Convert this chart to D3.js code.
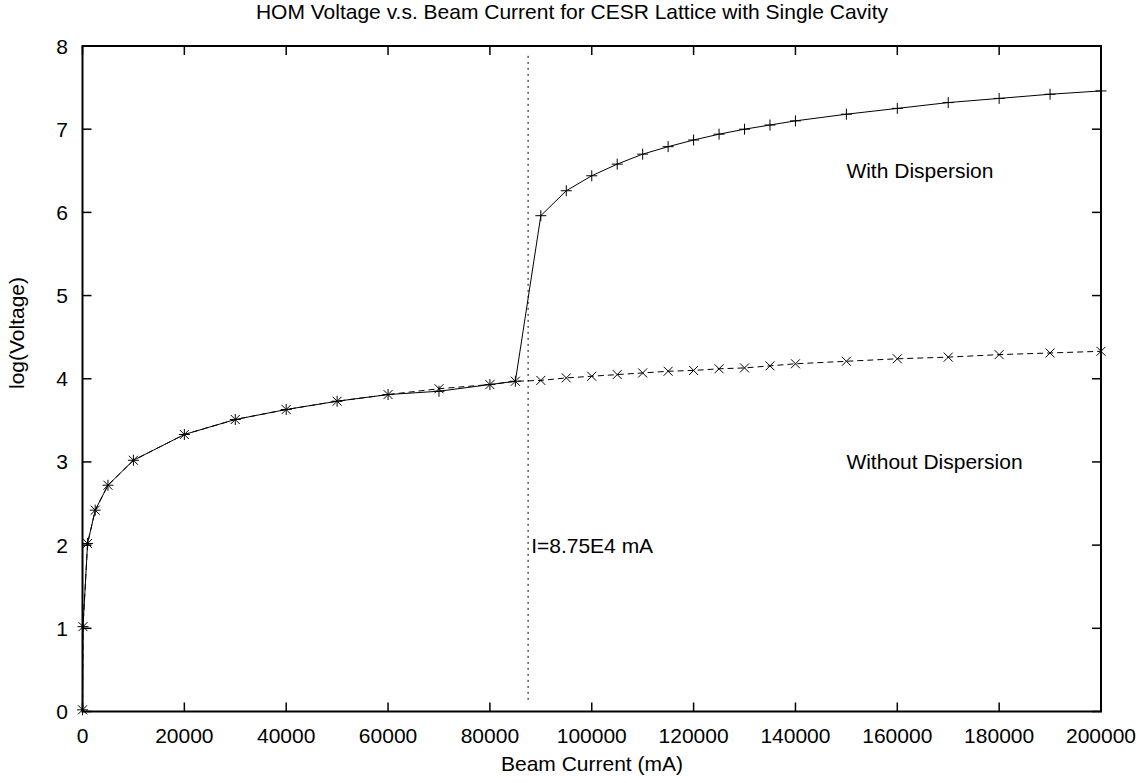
<!DOCTYPE html>
<html lang="en">
<head>
  <meta charset="UTF-8">
  <title>HOM Voltage v.s. Beam Current</title>
  <script src="https://d3js.org/d3.v7.min.js"></script>
  <style>
    body { margin: 0; background: #fff; }
    text { font-family: "Liberation Sans", Arial, sans-serif; fill: #000; }
  </style>
</head>
<body>
  <div id="root"></div>
  <script>
    // beam current (mA)
    const current = [10, 100, 1000, 2500, 5000, 10000, 20000, 30000, 40000, 50000, 60000, 70000, 80000, 85000,
      90000, 95000, 100000, 105000, 110000, 115000, 120000, 125000, 130000, 135000, 140000,
      150000, 160000, 170000, 180000, 190000, 200000]
    // log(Voltage) without dispersion
    const withoutDisp = [0.02, 1.02, 2.02, 2.42, 2.72, 3.02, 3.33, 3.51, 3.63, 3.73, 3.81, 3.88, 3.93, 3.97,
      3.98, 4.01, 4.03, 4.05, 4.07, 4.09, 4.10, 4.12, 4.13, 4.155, 4.18,
      4.21, 4.24, 4.26, 4.29, 4.31, 4.33]
    // log(Voltage) with dispersion
    const withDisp = [0.02, 1.02, 2.02, 2.42, 2.72, 3.02, 3.33, 3.51, 3.63, 3.73, 3.81, 3.85, 3.93, 3.97,
      5.96, 6.26, 6.44, 6.58, 6.70, 6.79, 6.87, 6.94, 7.00, 7.05, 7.10,
      7.18, 7.25, 7.32, 7.37, 7.42, 7.46]
    const xTicks = [0, 20000, 40000, 60000, 80000, 100000, 120000, 140000, 160000, 180000, 200000]
    const yTicks = [0, 1, 2, 3, 4, 5, 6, 7, 8]
    const threshold = 87500

    const width = 1148, height = 783
    const svg = d3.select('#root')
      .append('svg')
      .attr('width', width)
      .attr('height', height)

    const x = d3.scaleLinear().domain([0, 200000]).range([82.5, 1101])
    const y = d3.scaleLinear().domain([0, 8]).range([711.5, 46])
    const fs = 21

    // title
    svg.append('text')
      .attr('x', 572).attr('y', 19)
      .attr('text-anchor', 'middle')
      .style('font-size', fs + 'px')
      .text('HOM Voltage v.s. Beam Current for CESR Lattice with Single Cavity')

    // ticks, mirrored on all sides, pointing inward
    const tl = 9
    const ticks = svg.append('g').attr('stroke', '#000').attr('stroke-width', 1.5)
    xTicks.forEach(t => {
      ticks.append('line').attr('x1', x(t)).attr('x2', x(t)).attr('y1', y(0)).attr('y2', y(0) - tl)
      ticks.append('line').attr('x1', x(t)).attr('x2', x(t)).attr('y1', y(8)).attr('y2', y(8) + tl)
    })
    yTicks.forEach(t => {
      ticks.append('line').attr('x1', x(0)).attr('x2', x(0) + tl).attr('y1', y(t)).attr('y2', y(t))
      ticks.append('line').attr('x1', x(200000)).attr('x2', x(200000) - tl).attr('y1', y(t)).attr('y2', y(t))
    })

    svg.selectAll('.xlab').data(xTicks).enter()
      .append('text')
      .attr('x', d => x(d)).attr('y', 743)
      .attr('text-anchor', 'middle')
      .style('font-size', fs + 'px')
      .text(d => d)

    svg.selectAll('.ylab').data(yTicks).enter()
      .append('text')
      .attr('x', 68).attr('y', d => y(d))
      .attr('dy', '0.36em')
      .attr('text-anchor', 'end')
      .style('font-size', fs + 'px')
      .text(d => d)

    // axis titles
    svg.append('text')
      .attr('x', 592).attr('y', 771)
      .attr('text-anchor', 'middle')
      .style('font-size', fs + 'px')
      .text('Beam Current (mA)')
    svg.append('text')
      .attr('transform', 'translate(24,333) rotate(-90)')
      .attr('text-anchor', 'middle')
      .style('font-size', fs + 'px')
      .text('log(Voltage)')

    // threshold line
    svg.append('line')
      .attr('x1', x(threshold)).attr('x2', x(threshold))
      .attr('y1', y(0.14)).attr('y2', y(7.9))
      .attr('stroke', '#000').attr('stroke-width', 1)
      .attr('stroke-dasharray', '2,4')

    const line = d3.line()
      .x(d => x(d[0]))
      .y(d => y(d[1]))

    const ptsWithout = current.map((c, i) => [c, withoutDisp[i]])
    const ptsWith = current.map((c, i) => [c, withDisp[i]])

    svg.append('path')
      .attr('d', line(ptsWithout))
      .attr('fill', 'none').attr('stroke', '#000').attr('stroke-width', 1)
      .attr('stroke-dasharray', '6,4')
    svg.append('path')
      .attr('d', line(ptsWith))
      .attr('fill', 'none').attr('stroke', '#000').attr('stroke-width', 1)

    // markers: x for without, + for with
    const m = 4.5
    svg.append('g').selectAll('path').data(ptsWithout).enter()
      .append('path')
      .attr('d', d => {
        const cx = x(d[0]), cy = y(d[1])
        return `M${cx - m},${cy - m}L${cx + m},${cy + m}M${cx - m},${cy + m}L${cx + m},${cy - m}`
      })
      .attr('stroke', '#000').attr('stroke-width', 1)
    svg.append('g').selectAll('path').data(ptsWith).enter()
      .append('path')
      .attr('d', d => {
        const cx = x(d[0]), cy = y(d[1])
        return `M${cx - m - 1},${cy}L${cx + m + 1},${cy}M${cx},${cy - m - 1}L${cx},${cy + m + 1}`
      })
      .attr('stroke', '#000').attr('stroke-width', 1)

    // labels in data coords
    const labels = [
      ['With Dispersion', 150000, 6.5],
      ['Without Dispersion', 150000, 3],
      ['I=8.75E4 mA', threshold + 600, 2]
    ]
    svg.selectAll('.lbl').data(labels).enter()
      .append('text')
      .attr('x', d => x(d[1])).attr('y', d => y(d[2]))
      .attr('dy', '0.36em')
      .style('font-size', fs + 'px')
      .text(d => d[0])

    // border
    svg.append('rect')
      .attr('x', x(0)).attr('y', y(8))
      .attr('width', x(200000) - x(0)).attr('height', y(0) - y(8))
      .attr('fill', 'none').attr('stroke', '#000').attr('stroke-width', 2)
  </script>
</body>
</html>
